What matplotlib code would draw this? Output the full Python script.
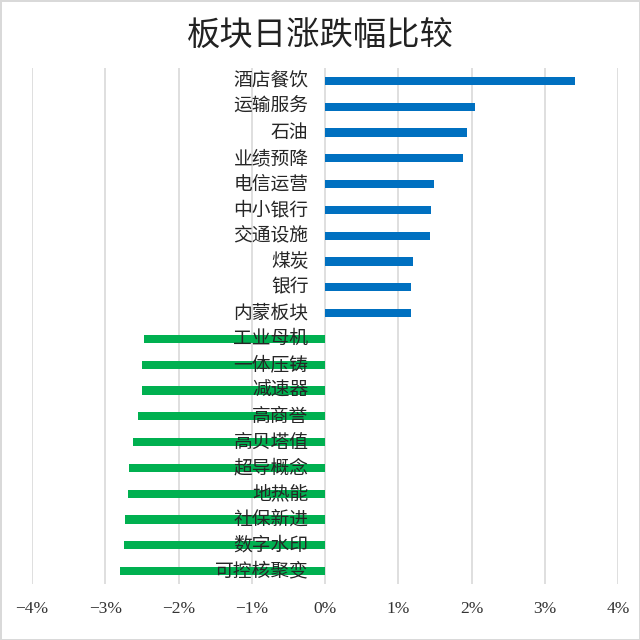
import numpy as np
import matplotlib.pyplot as plt
from matplotlib.ticker import FuncFormatter

plt.rcParams['font.family'] = ['Noto Sans CJK SC', 'DejaVu Sans']
plt.rcParams['axes.unicode_minus'] = True

# 板块 & 日涨跌幅 (%)
sectors = ['酒店餐饮', '运输服务', '石油', '业绩预降', '电信运营', '中小银行', '交通设施',
           '煤炭', '银行', '内蒙板块', '工业母机', '一体压铸', '减速器', '高商誉',
           '高贝塔值', '超导概念', '地热能', '社保新进', '数字水印', '可控核聚变']
changes = [3.41, 2.04, 1.93, 1.88, 1.48, 1.45, 1.43, 1.20, 1.17, 1.17,
           -2.47, -2.50, -2.50, -2.55, -2.62, -2.68, -2.69, -2.73, -2.75, -2.80]
xticks = [-4, -3, -2, -1, 0, 1, 2, 3, 4]

fig = plt.figure(figsize=(6.4, 6.4), dpi=100)
fig.patch.set_edgecolor('#d9d9d9')
fig.patch.set_linewidth(2)
ax = fig.add_axes([0.05, 1 - 584 / 640, 0.916, (584 - 68) / 640])

y = np.arange(len(sectors))
colors = ['#0070C0' if v > 0 else '#00B050' for v in changes]
ax.barh(y, changes, height=0.32, color=colors, zorder=3)

for i, name in enumerate(sectors):
    ax.annotate(name, xy=(0, i), xytext=(-12, 0), textcoords='offset points',
                ha='right', va='center', fontsize=13.5, color='#262626', zorder=4)

ax.set_xlim(-4, 4)
ax.set_ylim(len(sectors) - 0.5, -0.5)
ax.set_xticks(xticks)
ax.xaxis.set_major_formatter(FuncFormatter(lambda v, p: f'{v:.0f}%'.replace('-', '\u2212')))
ax.set_yticks([])
ax.grid(axis='x', color='#d9d9d9', linewidth=1.2, zorder=0)
for s in ax.spines.values():
    s.set_visible(False)
ax.tick_params(axis='x', length=0, pad=12, labelsize=12.5, colors='#333333')
for lab in ax.get_xticklabels():
    lab.set_family(['Liberation Serif', 'DejaVu Serif'])

fig.suptitle('板块日涨跌幅比较', y=0.972, fontsize=24, color='#222222')

fig.savefig('out.png', dpi=100)
